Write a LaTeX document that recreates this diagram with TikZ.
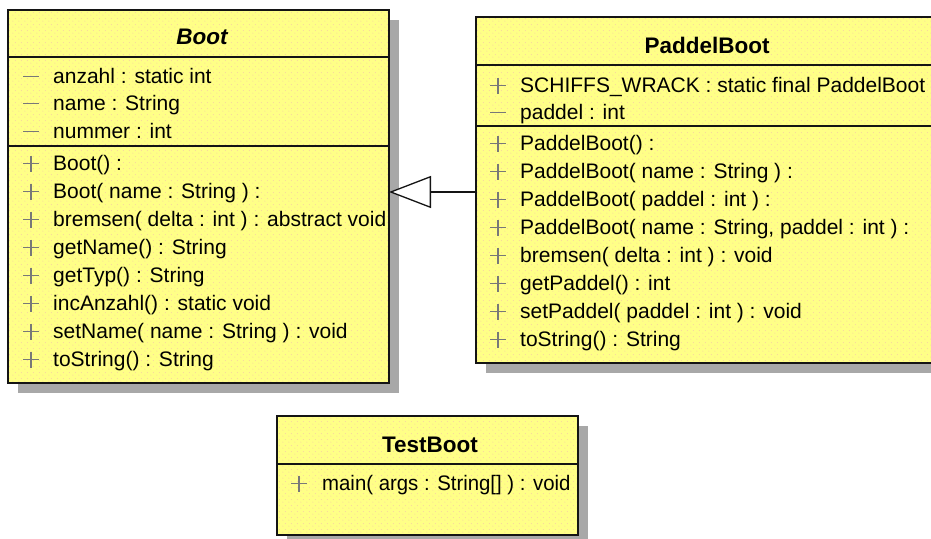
\documentclass[tikz,border=0pt]{standalone}
\usepackage{fontspec}
\setmainfont{Liberation Sans}
\usetikzlibrary{arrows.meta,shadows,patterns.meta}
\definecolor{umlyellow}{RGB}{255,255,135}
\definecolor{dotpink}{RGB}{248,214,160}
\definecolor{shadowgray}{RGB}{168,168,168}
\definecolor{signgray}{RGB}{120,120,120}
\definecolor{edgeblack}{RGB}{20,20,20}
\tikzdeclarepattern{
  name=umldots,
  type=uncolored,
  bottom left={(0pt,0pt)},
  top right={(6pt,6pt)},
  tile size={(6pt,6pt)},
  code={\fill (1pt,1pt) circle (0.6pt); \fill (4pt,4pt) circle (0.6pt);}
}
\tikzset{
  classbox/.style={draw=edgeblack, line width=2pt, fill=umlyellow, inner sep=0pt, outer sep=0pt,
    anchor=north west,
    postaction={pattern=umldots, pattern color=dotpink},
    postaction={draw=edgeblack, line width=2pt},
    general shadow={fill=shadowgray, shadow xshift=10pt, shadow yshift=-10pt}},
  sepline/.style={draw=edgeblack, line width=2pt},
  member/.style={anchor=base west, inner sep=0pt, font=\fontsize{21pt}{24pt}\selectfont},
  title/.style={anchor=base, inner sep=0pt, font=\fontsize{22.5pt}{26pt}\selectfont\bfseries},
  sign/.style={draw=signgray, line width=1.3pt},
  inherit/.style={draw=edgeblack, line width=1.5pt,
    -{Triangle[open, fill=white, length=42pt, width=32pt, line width=1.3pt]}}
}
\newcommand\plusat[2]{\draw[sign] (#1-8,#2-6.5) -- (#1+8,#2-6.5) (#1,#2-14.5) -- (#1,#2+1.5);}
\newcommand\minusat[2]{\draw[sign] (#1-8,#2-6.5) -- (#1+8,#2-6.5);}
\begin{document}
\begin{tikzpicture}[x=1pt,y=-1pt]
\path[use as bounding box] (0,0) rectangle (931,538);
\clip (0,0) rectangle (931,538);
\fill[white] (0,0) rectangle (931,538);

% Boot
\node[classbox, minimum width=381pt, minimum height=373pt] (boot) at (8,10) {};
\draw[sepline] (boot.west |- 0,57) -- (boot.east |- 0,57);
\draw[sepline] (boot.west |- 0,146) -- (boot.east |- 0,146);
\node[title, font=\fontsize{22.5pt}{26pt}\selectfont\bfseries\itshape] (boott) at (202,44) {Boot};
\minusat{31}{83}\node[member] (ba1) at (53,83) {anzahl : static int};
\minusat{31}{110}\node[member] (ba2) at (53,110) {name : String};
\minusat{31}{138}\node[member] (ba3) at (53,138) {nummer : int};
\plusat{31}{170}\node[member] (bm1) at (53,170) {Boot() :};
\plusat{31}{198}\node[member] (bm2) at (53,198) {Boot( name : String ) :};
\plusat{31}{226}\node[member] (bm3) at (53,226) {bremsen( delta : int ) : abstract void};
\plusat{31}{254}\node[member] (bm4) at (53,254) {getName() : String};
\plusat{31}{282}\node[member] (bm5) at (53,282) {getTyp() : String};
\plusat{31}{310}\node[member] (bm6) at (53,310) {incAnzahl() : static void};
\plusat{31}{338}\node[member] (bm7) at (53,338) {setName( name : String ) : void};
\plusat{31}{366}\node[member] (bm8) at (53,366) {toString() : String};

% PaddelBoot
\node[classbox, minimum width=462pt, minimum height=346pt] (pb) at (476,17) {};
\draw[sepline] (pb.west |- 0,65) -- (pb.east |- 0,65);
\draw[sepline] (pb.west |- 0,126) -- (pb.east |- 0,126);
\node[title] (pbt) at (707,53) {PaddelBoot};
\plusat{498}{92}\node[member] (pa1) at (520,92) {SCHIFFS\_WRACK : static final PaddelBoot};
\minusat{498}{119}\node[member] (pa2) at (520,119) {paddel : int};
\plusat{498}{150}\node[member] (pm1) at (520,150) {PaddelBoot() :};
\plusat{498}{178}\node[member] (pm2) at (520,178) {PaddelBoot( name : String ) :};
\plusat{498}{206}\node[member] (pm3) at (520,206) {PaddelBoot( paddel : int ) :};
\plusat{498}{234}\node[member] (pm4) at (520,234) {PaddelBoot( name : String, paddel : int ) :};
\plusat{498}{262}\node[member] (pm5) at (520,262) {bremsen( delta : int ) : void};
\plusat{498}{290}\node[member] (pm6) at (520,290) {getPaddel() : int};
\plusat{498}{318}\node[member] (pm7) at (520,318) {setPaddel( paddel : int ) : void};
\plusat{498}{346}\node[member] (pm8) at (520,346) {toString() : String};

% TestBoot
\node[classbox, minimum width=301pt, minimum height=119pt] (tb) at (277,416) {};
\draw[sepline] (tb.west |- 0,464) -- (tb.east |- 0,464);
\node[title] (tbt) at (430,452) {TestBoot};
\plusat{299}{490}\node[member, xscale=0.97] (tm1) at (322,490) {main( args : String[] ) : void};

% generalization
\draw[inherit] (pb.west |- 0,192) -- (boot.east |- 0,192);
\end{tikzpicture}
\end{document}
